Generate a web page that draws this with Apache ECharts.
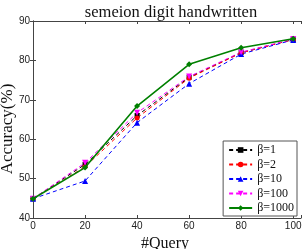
<!DOCTYPE html>
<html><head><meta charset="utf-8">
<script src="https://cdn.jsdelivr.net/npm/echarts@6/dist/echarts.min.js"></script>
<style>html,body{margin:0;padding:0;background:#fff}#c{width:303px;height:249px}</style>
</head><body><div id="c"></div>
<script>
var queries = [0, 20, 40, 60, 80, 100];
var xTicks = [0, 20, 40, 60, 80, 100];
var yTicks = [40, 50, 60, 70, 80, 90];
var beta1 = [44.9, 53.6, 66.0, 75.7, 82.0, 85.3];
var beta2 = [44.9, 53.0, 65.4, 75.5, 81.9, 85.3];
var beta10 = [44.9, 49.4, 64.2, 74.1, 81.6, 85.2];
var beta100 = [44.9, 54.0, 66.7, 75.9, 82.1, 85.4];
var beta1000 = [44.9, 52.8, 68.4, 79.0, 83.2, 85.5];
var names = ['β=1', 'β=2', 'β=10', 'β=100', 'β=1000'];

function pairs(v){ return queries.map(function(q,i){ return [q, v[i]]; }); }
function mk(name, vals, color, symbol, dashed, size, width){
  return {
    name: name, type: 'line', data: pairs(vals), symbol: symbol, symbolSize: size,
    lineStyle: {color: color, width: width, type: dashed ? [4,3] : 'solid'},
    itemStyle: {color: color}, z: dashed ? 2 : 3
  };
}
var chart = echarts.init(document.getElementById('c'), null, {renderer: 'canvas'});
var axisLine = {show: true, lineStyle: {color: '#444', width: 1}};
chart.setOption({
  animation: false,
  title: {text: 'semeion digit handwritten', left: 166, top: -1, textAlign: 'center',
    textStyle: {fontFamily: 'Liberation Serif', fontSize: 16.5, fontWeight: 'normal', color: '#111'}},
  graphic: [{
    type: 'text', x: 8, y: 129, rotation: Math.PI / 2,
    style: {text: 'Accuracy(%)', fontFamily: 'Liberation Serif', fontSize: 17, fill: '#111',
      align: 'center', verticalAlign: 'middle'}
  }],
  grid: {left: 33, right: 2, top: 21, bottom: 31, outerBoundsMode: 'none', containLabel: false},
  legend: {
    orient: 'vertical', right: 6, bottom: 33, itemWidth: 23, itemHeight: 7, itemGap: 2.5,
    backgroundColor: '#fff', borderColor: '#555', borderWidth: 1, borderRadius: 0,
    padding: [3, 3, 2, 5],
    textStyle: {fontFamily: 'Liberation Serif', fontSize: 12, lineHeight: 10, color: '#111', padding: [0,0,0,0]},
    data: names
  },
  xAxis: [{
    type: 'value', min: 0, max: 103, interval: 20,
    name: '#Query', nameLocation: 'middle', nameGap: 11,
    nameTextStyle: {fontFamily: 'Liberation Serif', fontSize: 16, color: '#111', padding: [0,4,0,0]},
    axisLine: axisLine, axisTick: {show: true, inside: true, length: 3, lineStyle: {color: '#444'}},
    axisLabel: {fontFamily: 'Liberation Sans', fontSize: 10, color: '#222', margin: 3,
      formatter: function(v){ return xTicks.indexOf(v) >= 0 ? String(v) : ''; }},
    splitLine: {show: false}
  }, {
    type: 'value', position: 'top', min: 0, max: 103, interval: 20,
    axisLine: axisLine, axisTick: {show: true, inside: true, length: 3, lineStyle: {color: '#444'}},
    axisLabel: {show: false}, splitLine: {show: false}
  }],
  yAxis: [{
    type: 'value', min: 40, max: 90, interval: 10,
    axisLine: axisLine, axisTick: {show: true, inside: true, length: 3, lineStyle: {color: '#444'}},
    axisLabel: {fontFamily: 'Liberation Sans', fontSize: 10, color: '#222', margin: 3,
      formatter: function(v){ return yTicks.indexOf(v) >= 0 ? String(v) : ''; }},
    splitLine: {show: false}
  }, {
    type: 'value', position: 'right', min: 40, max: 90, interval: 10,
    axisLine: axisLine, axisTick: {show: true, inside: true, length: 3, lineStyle: {color: '#444'}},
    axisLabel: {show: false}, splitLine: {show: false}
  }],
  series: [
    mk(names[0], beta1, '#000000', 'rect', true, 5, 1),
    mk(names[1], beta2, '#ff0000', 'circle', true, 5, 1),
    mk(names[2], beta10, '#0000ff', 'triangle', true, 6, 1),
    Object.assign(mk(names[3], beta100, '#ff00ff', 'triangle', true, 6, 1), {symbolRotate: 180}),
    mk(names[4], beta1000, '#008000', 'diamond', false, 6, 1.6)
  ]
});
</script></body></html>
